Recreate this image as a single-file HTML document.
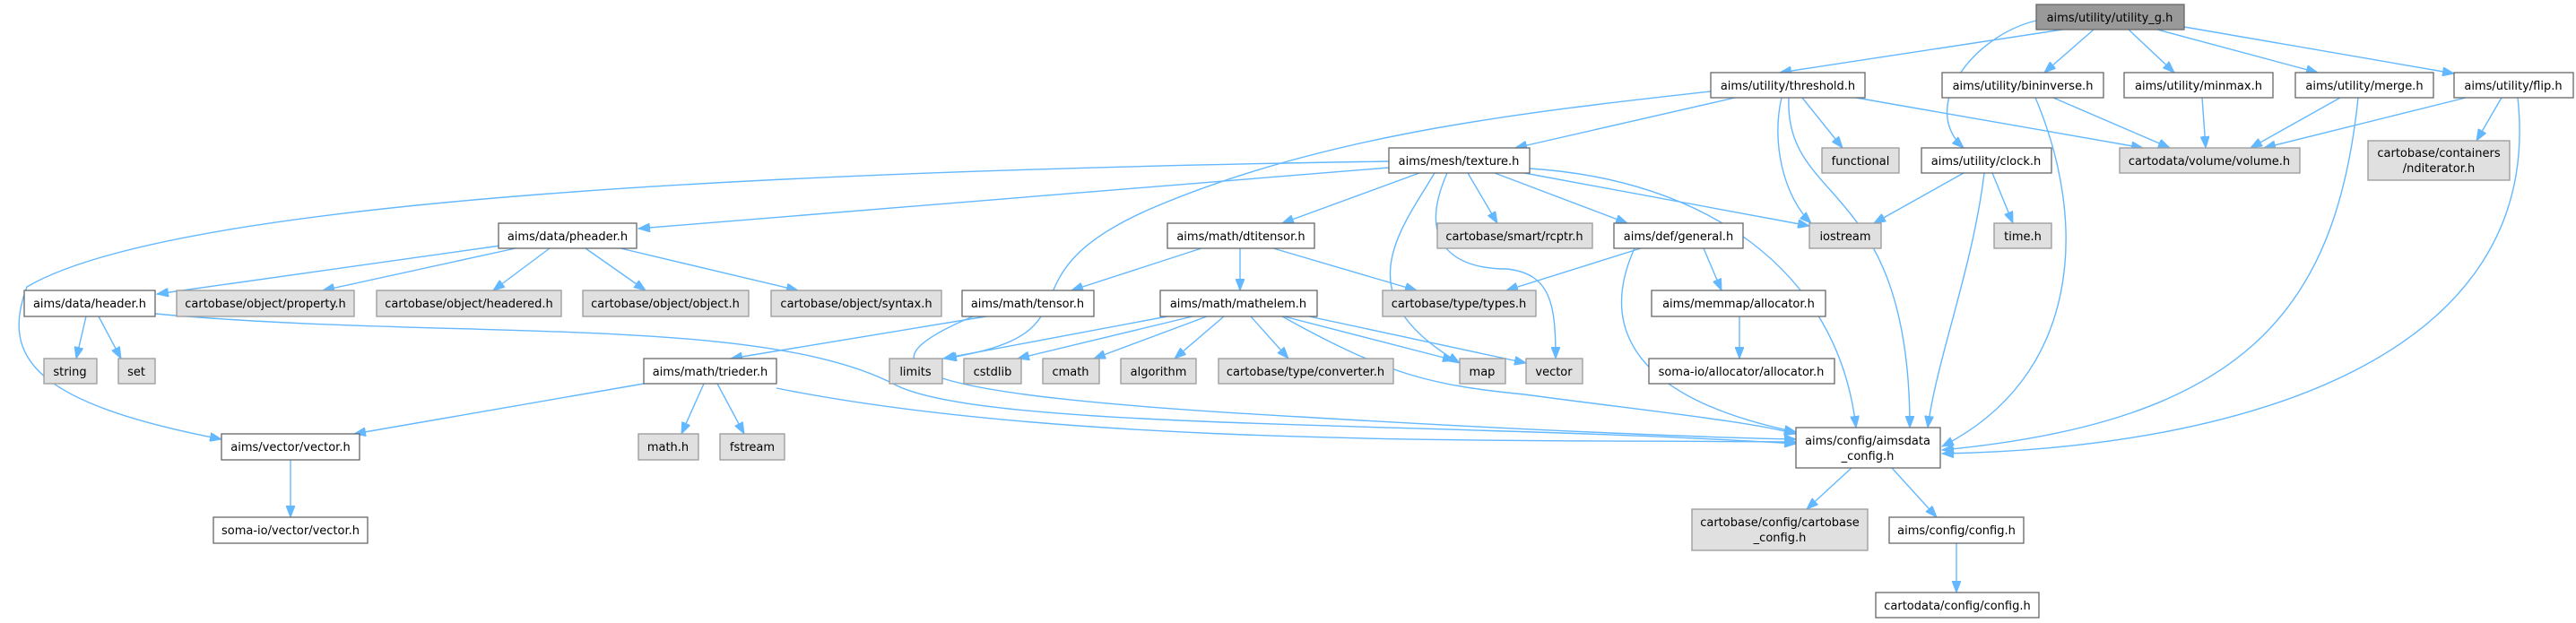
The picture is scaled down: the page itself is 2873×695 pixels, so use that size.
<!DOCTYPE html>
<html><head><meta charset="utf-8"><style>
html,body{margin:0;padding:0;background:#fff;}
svg{display:block;}
text{font-family:"DejaVu Sans","Liberation Sans",sans-serif;font-size:13px;fill:#000;text-anchor:middle;}
.w{fill:#fff;stroke:#666;stroke-width:1.3;}
.g{fill:#e0e0e0;stroke:#999;stroke-width:1.3;}
.r{fill:#999;stroke:#666;stroke-width:1.3;}
path{fill:none;stroke:#63b8ff;stroke-width:1.4;marker-end:url(#a);}
</style></head><body>
<svg width="2873" height="695" viewBox="0 0 2873 695" xmlns="http://www.w3.org/2000/svg">
<defs><marker id="a" markerUnits="userSpaceOnUse" markerWidth="14" markerHeight="10" refX="13" refY="5" orient="auto"><path d="M0,0 L13,5 L0,10 Z" style="fill:#63b8ff;stroke:#63b8ff;stroke-width:1;marker-end:none"/></marker></defs>

<!-- edges -->
<path d="M2300,33 L1985,81"/>
<path d="M2335,33 L2280,81"/>
<path d="M2374,33 L2425,81"/>
<path d="M2406,33 L2585,81"/>
<path d="M2436,30 L2737,82"/>
<path d="M2271,23 C2200,40 2140,120 2190,165"/>
<path d="M1935,109 L1690,165"/>
<path d="M2010,109 L2055,165"/>
<path d="M2070,109 L2390,165"/>
<path d="M1987,109 C1975,160 1990,220 2020,249"/>
<path d="M1995,109 C1990,230 2130,200 2130,477"/>
<path d="M1908,102 C1700,125 1480,150 1290,230 S1240,370 1054,400"/>
<path d="M1549,187 L712,255"/>
<path d="M1549,180 C900,190 200,220 30,320 C0,400 40,450 247,490"/>
<path d="M1583,193 L1430,249"/>
<path d="M1600,193 C1560,260 1500,330 1628,405"/>
<path d="M1614,193 C1580,270 1620,300 1680,300 C1730,305 1735,340 1735,400"/>
<path d="M1637,193 L1670,249"/>
<path d="M1667,193 L1815,249"/>
<path d="M1700,193 L2018,252"/>
<path d="M1706,188 C1900,200 2050,300 2070,477"/>
<path d="M2190,193 L2090,249"/>
<path d="M2222,193 L2245,249"/>
<path d="M2213,193 C2200,300 2160,400 2150,477"/>
<path d="M2290,109 L2420,165"/>
<path d="M2270,109 C2330,250 2320,420 2166,498"/>
<path d="M2456,109 L2460,165"/>
<path d="M2610,109 L2510,165"/>
<path d="M2630,109 C2605,350 2500,470 2166,502"/>
<path d="M2750,109 L2525,165"/>
<path d="M2790,109 L2762,157"/>
<path d="M2808,109 C2840,400 2500,500 2166,506"/>
<path d="M558,274 L175,328"/>
<path d="M575,277 L360,324"/>
<path d="M613,277 L550,324"/>
<path d="M653,277 L720,324"/>
<path d="M692,277 L890,324"/>
<path d="M96,353 L85,400"/>
<path d="M110,353 L135,400"/>
<path d="M173,350 C500,380 850,350 1000,430 C1100,480 1600,470 2003,495"/>
<path d="M1340,277 L1195,324"/>
<path d="M1383,277 L1383,324"/>
<path d="M1420,277 L1580,324"/>
<path d="M1100,353 L815,400"/>
<path d="M1085,353 C950,410 1000,440 1450,465 C1700,480 1900,488 2003,490"/>
<path d="M1302,353 L1052,400"/>
<path d="M1330,353 L1135,400"/>
<path d="M1346,353 L1220,400"/>
<path d="M1365,353 L1310,400"/>
<path d="M1395,353 L1437,400"/>
<path d="M1432,353 L1622,402"/>
<path d="M1460,353 L1702,405"/>
<path d="M1430,353 C1550,420 1600,430 1700,440 C1850,460 1950,470 2003,484"/>
<path d="M1830,277 L1680,324"/>
<path d="M1900,277 L1920,324"/>
<path d="M1823,277 C1790,350 1800,440 2003,482"/>
<path d="M1940,353 L1940,400"/>
<path d="M718,428 L395,484"/>
<path d="M785,428 L760,484"/>
<path d="M800,428 L830,484"/>
<path d="M866,433 C1200,500 1700,490 2003,493"/>
<path d="M324,513 L324,577"/>
<path d="M2065,522 L2015,568"/>
<path d="M2110,522 L2160,577"/>
<path d="M2182,606 L2182,661"/>

<!-- nodes -->
<rect class="r" x="2271" y="5" width="165" height="28"/><text x="2353" y="24">aims/utility/utility_g.h</text>
<rect class="w" x="1908" y="81" width="172" height="28"/><text x="1994" y="100">aims/utility/threshold.h</text>
<rect class="w" x="2166" y="81" width="180" height="28"/><text x="2256" y="100">aims/utility/bininverse.h</text>
<rect class="w" x="2369" y="81" width="166" height="28"/><text x="2452" y="100">aims/utility/minmax.h</text>
<rect class="w" x="2560" y="81" width="154" height="28"/><text x="2637" y="100">aims/utility/merge.h</text>
<rect class="w" x="2737" y="81" width="133" height="28"/><text x="2803" y="100">aims/utility/flip.h</text>

<rect class="w" x="1549" y="165" width="157" height="28"/><text x="1627" y="184">aims/mesh/texture.h</text>
<rect class="g" x="2032" y="165" width="86" height="28"/><text x="2075" y="184">functional</text>
<rect class="w" x="2143" y="165" width="145" height="28"/><text x="2215" y="184">aims/utility/clock.h</text>
<rect class="g" x="2364" y="165" width="201" height="28"/><text x="2464" y="184">cartodata/volume/volume.h</text>
<rect class="g" x="2641" y="157" width="158" height="44"/><text x="2720" y="175">cartobase/containers</text><text x="2720" y="192">/nditerator.h</text>

<rect class="w" x="556" y="249" width="154" height="28"/><text x="633" y="268">aims/data/pheader.h</text>
<rect class="w" x="1302" y="249" width="164" height="28"/><text x="1384" y="268">aims/math/dtitensor.h</text>
<rect class="g" x="1603" y="249" width="173" height="28"/><text x="1689" y="268">cartobase/smart/rcptr.h</text>
<rect class="w" x="1800" y="249" width="144" height="28"/><text x="1872" y="268">aims/def/general.h</text>
<rect class="g" x="2018" y="249" width="80" height="28"/><text x="2058" y="268">iostream</text>
<rect class="g" x="2224" y="249" width="64" height="28"/><text x="2256" y="268">time.h</text>

<rect class="w" x="27" y="324" width="146" height="29"/><text x="100" y="343">aims/data/header.h</text>
<rect class="g" x="197" y="324" width="198" height="29"/><text x="296" y="343">cartobase/object/property.h</text>
<rect class="g" x="420" y="324" width="206" height="29"/><text x="523" y="343">cartobase/object/headered.h</text>
<rect class="g" x="650" y="324" width="185" height="29"/><text x="742" y="343">cartobase/object/object.h</text>
<rect class="g" x="860" y="324" width="190" height="29"/><text x="955" y="343">cartobase/object/syntax.h</text>
<rect class="w" x="1073" y="324" width="147" height="29"/><text x="1146" y="343">aims/math/tensor.h</text>
<rect class="w" x="1294" y="324" width="175" height="29"/><text x="1381" y="343">aims/math/mathelem.h</text>
<rect class="g" x="1542" y="324" width="171" height="29"/><text x="1627" y="343">cartobase/type/types.h</text>
<rect class="w" x="1842" y="324" width="194" height="29"/><text x="1939" y="343">aims/memmap/allocator.h</text>

<rect class="g" x="49" y="400" width="59" height="28"/><text x="78" y="419">string</text>
<rect class="g" x="132" y="400" width="41" height="28"/><text x="152" y="419">set</text>
<rect class="w" x="718" y="400" width="148" height="28"/><text x="792" y="419">aims/math/trieder.h</text>
<rect class="g" x="992" y="400" width="59" height="28"/><text x="1021" y="419">limits</text>
<rect class="g" x="1075" y="400" width="64" height="28"/><text x="1107" y="419">cstdlib</text>
<rect class="g" x="1163" y="400" width="63" height="28"/><text x="1194" y="419">cmath</text>
<rect class="g" x="1250" y="400" width="84" height="28"/><text x="1292" y="419">algorithm</text>
<rect class="g" x="1359" y="400" width="195" height="28"/><text x="1456" y="419">cartobase/type/converter.h</text>
<rect class="g" x="1628" y="400" width="51" height="28"/><text x="1653" y="419">map</text>
<rect class="g" x="1702" y="400" width="63" height="28"/><text x="1733" y="419">vector</text>
<rect class="w" x="1839" y="400" width="207" height="28"/><text x="1942" y="419">soma-io/allocator/allocator.h</text>

<rect class="w" x="247" y="484" width="154" height="29"/><text x="324" y="503">aims/vector/vector.h</text>
<rect class="g" x="712" y="484" width="67" height="29"/><text x="745" y="503">math.h</text>
<rect class="g" x="803" y="484" width="72" height="29"/><text x="839" y="503">fstream</text>
<rect class="w" x="2003" y="477" width="161" height="45"/><text x="2083" y="496">aims/config/aimsdata</text><text x="2083" y="513">_config.h</text>

<rect class="w" x="238" y="577" width="172" height="29"/><text x="324" y="596">soma-io/vector/vector.h</text>
<rect class="g" x="1887" y="568" width="196" height="46"/><text x="1985" y="587">cartobase/config/cartobase</text><text x="1985" y="604">_config.h</text>
<rect class="w" x="2107" y="577" width="150" height="29"/><text x="2182" y="596">aims/config/config.h</text>
<rect class="w" x="2092" y="661" width="182" height="28"/><text x="2183" y="680">cartodata/config/config.h</text>
</svg>
</body></html>
